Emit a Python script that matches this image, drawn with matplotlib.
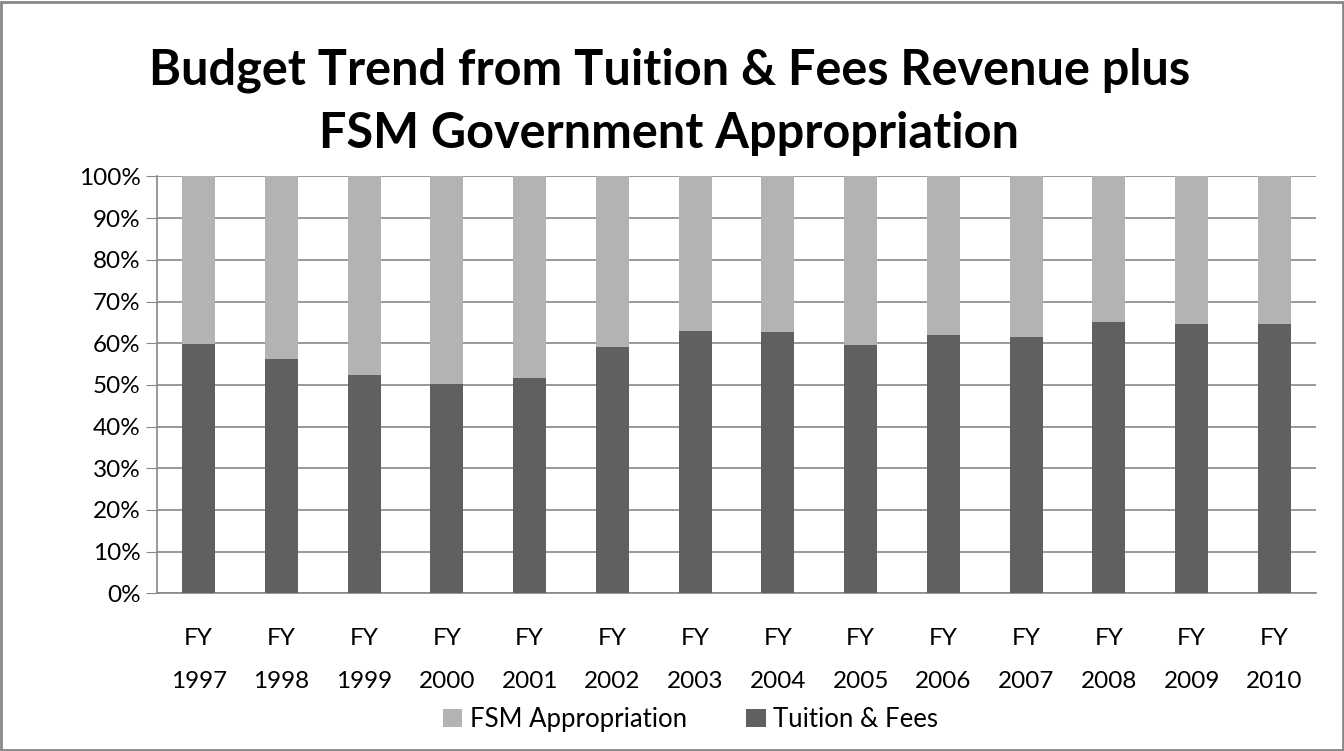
import matplotlib
matplotlib.use("Agg")
import matplotlib.pyplot as plt
from matplotlib.patches import Rectangle
import numpy as np

plt.rcParams["font.family"] = ["Lato", "DejaVu Sans"]

years = ["FY\n1997", "FY\n1998", "FY\n1999", "FY\n2000", "FY\n2001", "FY\n2002", "FY\n2003",
         "FY\n2004", "FY\n2005", "FY\n2006", "FY\n2007", "FY\n2008", "FY\n2009", "FY\n2010"]
tuition = [59.8, 56.3, 52.4, 50.2, 51.6, 59.1, 62.9, 62.6, 59.5, 61.9, 61.5, 65.0, 64.7, 64.7]
appropriation = [100 - t for t in tuition]

dark = "#606060"
light = "#b3b3b3"

fig = plt.figure(figsize=(13.44, 7.51), dpi=100)
ax = fig.add_axes([0.117, 0.21, 0.862, 0.555])

x = np.arange(len(years))
w = 0.4
ax.bar(x, tuition, w, color=dark, label="Tuition & Fees", zorder=3)
ax.bar(x, appropriation, w, bottom=tuition, color=light, label="FSM Appropriation", zorder=3)

ax.set_xlim(-0.5, len(years) - 0.5)
ax.set_ylim(0, 100)
ax.set_yticks(np.arange(0, 101, 10))
ax.set_yticklabels([f"{v}%" for v in range(0, 101, 10)], fontsize=17.5)
ax.set_xticks(x)
ax.set_xticklabels(years, fontsize=17.5, linespacing=2.3)
ax.tick_params(axis="x", length=0, pad=25)
ax.tick_params(axis="y", length=8, color="#888888", pad=4)
ax.grid(axis="y", color="#888888", linewidth=1.2, zorder=0)

for s in ["top", "right"]:
    ax.spines[s].set_visible(False)
for s in ["left", "bottom"]:
    ax.spines[s].set_color("#888888")
    ax.spines[s].set_linewidth(1.2)

fig.suptitle("Budget Trend from Tuition & Fees Revenue plus\nFSM Government Appropriation",
             fontsize=35, fontweight="bold", x=0.498, y=0.937, linespacing=1.5)

h, l = ax.get_legend_handles_labels()
fig.legend(h[::-1], l[::-1], loc="center", bbox_to_anchor=(0.514, 0.042), ncol=2,
           frameon=False, fontsize=18.5, handlelength=0.75, handleheight=0.75,
           handletextpad=0.3, columnspacing=2.3)

fig.patches.append(Rectangle((0.001, 0.001), 0.998, 0.997, transform=fig.transFigure,
                             fill=False, edgecolor="#888888", linewidth=2))

fig.savefig("out.png", dpi=100)
